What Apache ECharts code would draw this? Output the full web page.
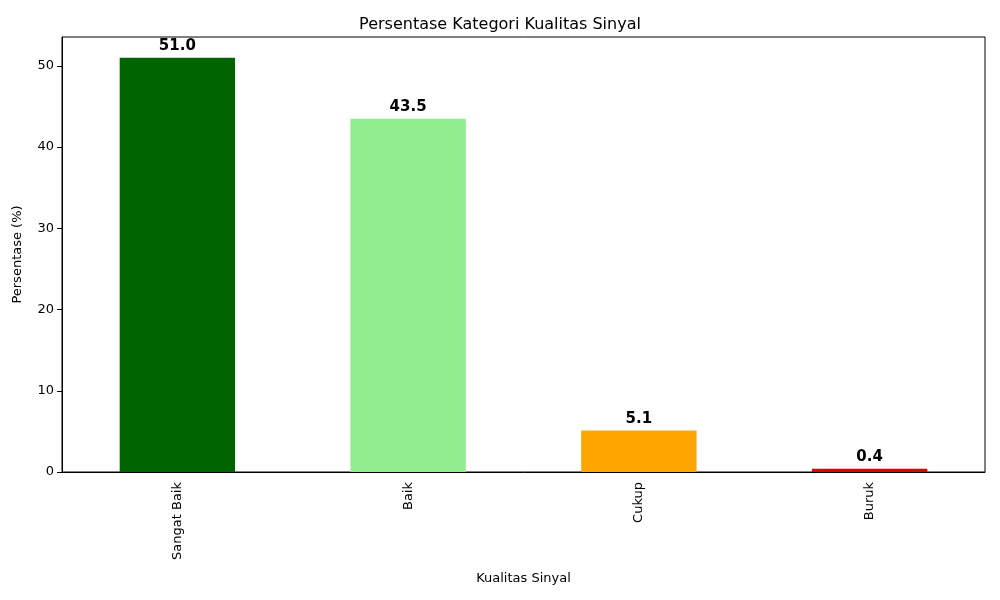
<!DOCTYPE html>
<html><head><meta charset="utf-8">
<script src="https://cdn.jsdelivr.net/npm/echarts@6/dist/echarts.min.js"></script>
<style>body{margin:0}#c{width:1000px;height:600px}</style></head>
<body><div id="c"></div>
<script>
const categories = ['Sangat Baik','Baik','Cukup','Buruk'];
const values = [51.0, 43.5, 5.1, 0.4];
const colors = ['#006400','#90EE90','#FFA500','#E00000'];
const yTicks = [0,10,20,30,40,50];
const chart = echarts.init(document.getElementById('c'));
const font = 'DejaVu Sans';
chart.setOption({
  animation:false,
  textStyle:{fontFamily:font},
  title:{text:'Persentase Kategori Kualitas Sinyal',left:'center',top:12,textStyle:{fontFamily:font,fontSize:16,fontWeight:'normal',color:'#000'}},
  grid:{left:62,right:15,top:37,bottom:128},
  xAxis:{type:'category',data:categories,name:'Kualitas Sinyal',nameLocation:'middle',nameGap:100,
    nameTextStyle:{fontFamily:font,fontSize:13,color:'#000'},
    axisLine:{lineStyle:{color:'#000'}},axisTick:{alignWithLabel:true,lineStyle:{color:'#000'},length:5},
    axisLabel:{rotate:90,color:'#000',fontFamily:font,fontSize:13,margin:10},
    splitLine:{show:false}},
  yAxis:{type:'value',min:0,max:53.55,interval:10,name:'Persentase (%)',nameLocation:'middle',nameGap:38,
    nameTextStyle:{fontFamily:font,fontSize:13,color:'#000'},
    axisLine:{show:true,lineStyle:{color:'#000'}},axisTick:{show:true,length:5,lineStyle:{color:'#000'}},
    axisLabel:{color:'#000',fontFamily:font,fontSize:13,showMaxLabel:false,
      formatter:v=>yTicks.includes(v)?String(v):''},
    splitLine:{show:false}},
  series:[{type:'bar',barWidth:'50%',
    data:values.map((v,i)=>({value:v,itemStyle:{color:colors[i]}})),
    label:{show:true,position:'top',distance:4,formatter:p=>p.value.toFixed(1),fontFamily:font,fontSize:15,fontWeight:'bold',color:'#000'}}]
});
// frame on top/right
chart.setOption({graphic:[{type:'rect',shape:{x:62,y:37,width:923,height:435},style:{fill:'none',stroke:'#000',lineWidth:1},silent:true}]});
</script></body></html>
